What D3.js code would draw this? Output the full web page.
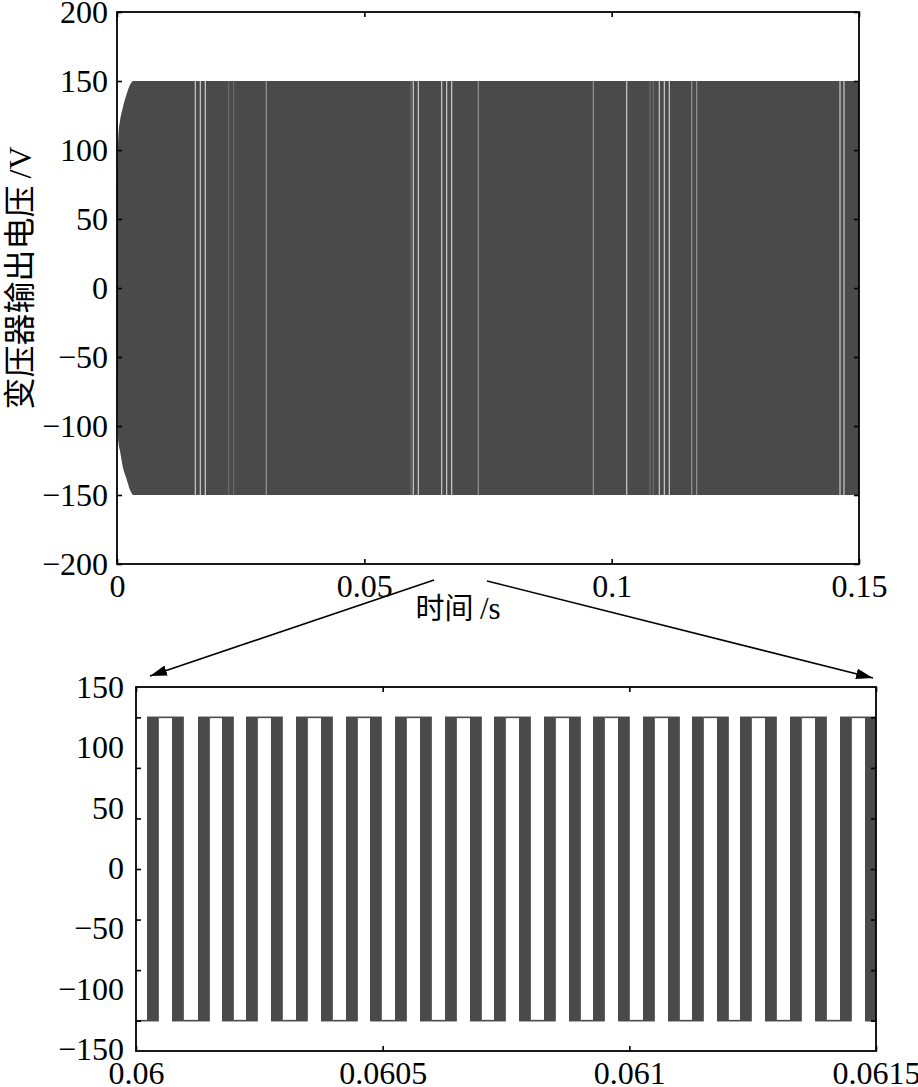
<!DOCTYPE html>
<html><head><meta charset="utf-8">
<script src="https://cdn.jsdelivr.net/npm/d3@7"></script>
<style>body{margin:0;background:#fff} svg{display:block}</style>
</head><body>
<svg id="c" width="918" height="1087"></svg>
<script>
// ================= DATA =================
// Top plot: envelope of the dense switching waveform during start-up (time s, volts)
const envTime  = [0, 0.0003, 0.0006, 0.0012, 0.0019, 0.0026, 0.0033, 0.15];
const envUpper = [76, 112, 121, 131, 140, 147, 150, 150];
const envLower = [-46, -112, -118, -130, -138, -146, -150, -150];
// Light gaps visible inside the dense waveform (time s) and their brightness (0 faint .. 2 bright)
const gapTime  = [0.01583, 0.01684, 0.01785, 0.02258, 0.02359, 0.03018, 0.05943, 0.05990, 0.06091,
                  0.06564, 0.06665, 0.06766, 0.07304, 0.09629, 0.10304, 0.10775, 0.10842, 0.10963,
                  0.11064, 0.11165, 0.11618, 0.11719, 0.14616, 0.14697];
const gapLevel = [2, 2, 2, 0, 0, 1, 0, 2, 2,
                  2, 2, 2, 1, 1, 2, 0, 0, 2,
                  2, 2, 1, 1, 2, 2];
const topXTicks = [0, 0.05, 0.1, 0.15];
const topYTicks = [-200, -150, -100, -50, 0, 50, 100, 150, 200];

// Zoomed plot: start time (s) of each high-frequency switching burst
const burstStart = [0.0600223, 0.0600730, 0.0601257, 0.0601743, 0.0602230, 0.0602736, 0.0603243,
                    0.0603750, 0.0604257, 0.0604743, 0.0605250, 0.0605757, 0.0606264, 0.0606770,
                    0.0607257, 0.0607764, 0.0608270, 0.0608777, 0.0609264, 0.0609770, 0.0610277,
                    0.0610784, 0.0611270, 0.0611777, 0.0612243, 0.0612750, 0.0613257, 0.0613764,
                    0.0614270, 0.0614777];
const burstWidth = 0.000024;       // s
const levelHigh = 150, levelLow = -150;
const zoomXTicks = [0.06, 0.0605, 0.061, 0.0615];
const zoomYTicks = [-150, -100, -50, 0, 50, 100, 150];

// ================= CHART =================
const svg = d3.select('#c');
const dark = '#4a4a4a';
const serif = '"Liberation Serif", "DejaVu Serif", serif';
const cjk = '"Noto Sans CJK SC", sans-serif';

// ---- top plot ----
const T = {l: 117, r: 859, t: 12, b: 564};
const xTop = d3.scaleLinear().domain([0, 0.15]).range([T.l, T.r]);
const yTop = d3.scaleLinear().domain([-200, 200]).range([T.b, T.t]);

const envData = envTime.map((t, i) => ({t, u: envUpper[i], lo: envLower[i]}));
svg.append('path').datum(envData)
  .attr('d', d3.area().x(d => xTop(d.t)).y0(d => yTop(d.lo)).y1(d => yTop(d.u)).curve(d3.curveMonotoneX))
  .attr('fill', dark);

const gapColor = ['#707070', '#9a9a9a', '#d8d8d8'];
svg.append('g').selectAll('line').data(gapTime.map((t, i) => ({t, k: gapLevel[i]}))).join('line')
  .attr('x1', d => xTop(d.t)).attr('x2', d => xTop(d.t))
  .attr('y1', yTop(150)).attr('y2', yTop(-150))
  .attr('stroke', d => gapColor[d.k]).attr('stroke-width', 1.1);

function box(B, xs, ys, xTicks, yTicks, yTickVals, yLabelScale, labPad) {
  const g = svg.append('g');
  const tl = 5;
  g.append('g').attr('transform', `translate(0,${B.b})`)
    .call(d3.axisBottom(xs).tickValues(xTicks).tickSize(-tl).tickPadding(10).tickFormat(d => String(d)))
    .call(a => a.select('.domain').remove());
  g.append('g').attr('transform', `translate(0,${B.t})`)
    .call(d3.axisTop(xs).tickValues(xTicks).tickSize(-tl).tickFormat(''))
    .call(a => a.select('.domain').remove());
  g.append('g').attr('transform', `translate(${B.l},0)`)
    .call(d3.axisLeft(ys).tickValues(yTickVals).tickSize(-tl).tickFormat(''))
    .call(a => a.select('.domain').remove());
  g.append('g').attr('transform', `translate(${B.r},0)`)
    .call(d3.axisRight(ys).tickValues(yTickVals).tickSize(-tl).tickFormat(''))
    .call(a => a.select('.domain').remove());
  // y tick labels
  g.append('g').selectAll('text').data(yTicks).join('text')
    .attr('x', B.l - labPad).attr('y', d => yLabelScale(d)).attr('dy', '0.34em')
    .attr('text-anchor', 'end').text(d => d3.format('')(d));
  g.selectAll('line').attr('stroke', '#000').attr('stroke-width', 1.6);
  g.selectAll('text').attr('font-family', serif).attr('font-size', 32).attr('fill', '#000');
  g.append('rect').attr('x', B.l).attr('y', B.t).attr('width', B.r - B.l).attr('height', B.b - B.t)
    .attr('fill', 'none').attr('stroke', '#000').attr('stroke-width', 1.8);
}
box(T, xTop, yTop, topXTicks, topYTicks, topYTicks, yTop, 9);

// axis titles
svg.append('text').attr('transform', `translate(31,${(T.t + T.b) / 2 - 10}) rotate(-90)`)
  .attr('text-anchor', 'middle').attr('font-size', 32).attr('font-family', cjk)
  .text('变压器输出电压 ').append('tspan').attr('font-family', serif).text('/V');
svg.append('text').attr('x', 458).attr('y', 619)
  .attr('text-anchor', 'middle').attr('font-size', 29).attr('font-family', cjk)
  .text('时间 ').append('tspan').attr('font-family', serif).attr('font-size', 31).text('/s');

// ---- zoomed plot ----
const Z = {l: 136, r: 876, t: 687, b: 1051};
const xZ = d3.scaleLinear().domain([0.06, 0.0615]).range([Z.l, Z.r]);
const yZ = d3.scaleLinear().domain([-180, 180]).range([Z.b, Z.t]);
const yZLab = d3.scaleLinear().domain([-150, 150]).range([1049, 687]);

svg.append('clipPath').attr('id', 'zc').append('rect')
  .attr('x', Z.l).attr('y', Z.t).attr('width', Z.r - Z.l).attr('height', Z.b - Z.t);
const zg = svg.append('g').attr('clip-path', 'url(#zc)');

// flat segments between bursts
const segs = [];
let prevEnd = 0.06;
burstStart.forEach((s, i) => {
  const lvl = i % 2 === 0 ? levelLow : levelHigh;
  segs.push({t0: prevEnd, t1: s, v: lvl});
  prevEnd = s + burstWidth;
});
segs.push({t0: prevEnd, t1: 0.0615, v: burstStart.length % 2 === 0 ? levelLow : levelHigh});
zg.append('g').selectAll('line').data(segs).join('line')
  .attr('x1', d => xZ(d.t0)).attr('x2', d => xZ(d.t1))
  .attr('y1', d => yZ(d.v)).attr('y2', d => yZ(d.v))
  .attr('stroke', dark).attr('stroke-width', 1.6);
zg.append('g').selectAll('rect').data(burstStart).join('rect')
  .attr('x', d => xZ(d)).attr('width', d => xZ(d + burstWidth) - xZ(d))
  .attr('y', yZ(levelHigh) - 0.8).attr('height', yZ(levelLow) - yZ(levelHigh) + 1.6)
  .attr('fill', dark);

box(Z, xZ, yZ, zoomXTicks, zoomYTicks, zoomYTicks, yZLab, 12);

// ---- zoom arrows ----
const defs = svg.append('defs');
defs.append('marker').attr('id', 'ah').attr('viewBox', '0 0 16 10').attr('refX', 16).attr('refY', 5)
  .attr('markerWidth', 17).attr('markerHeight', 11).attr('markerUnits', 'userSpaceOnUse')
  .attr('orient', 'auto')
  .append('path').attr('d', 'M0,0 L16,5 L0,10 Z').attr('fill', '#000');
const arrows = [
  {x1: xTop(0.0641), y1: T.b + 16, x2: xZ(0.06) + 14, y2: Z.t - 11},
  {x1: xTop(0.0748), y1: T.b + 17, x2: xZ(0.0615) - 3, y2: Z.t - 9}
];
svg.append('g').selectAll('line').data(arrows).join('line')
  .attr('x1', d => d.x1).attr('y1', d => d.y1).attr('x2', d => d.x2).attr('y2', d => d.y2)
  .attr('stroke', '#000').attr('stroke-width', 1.6).attr('marker-end', 'url(#ah)');
</script>
</body></html>
